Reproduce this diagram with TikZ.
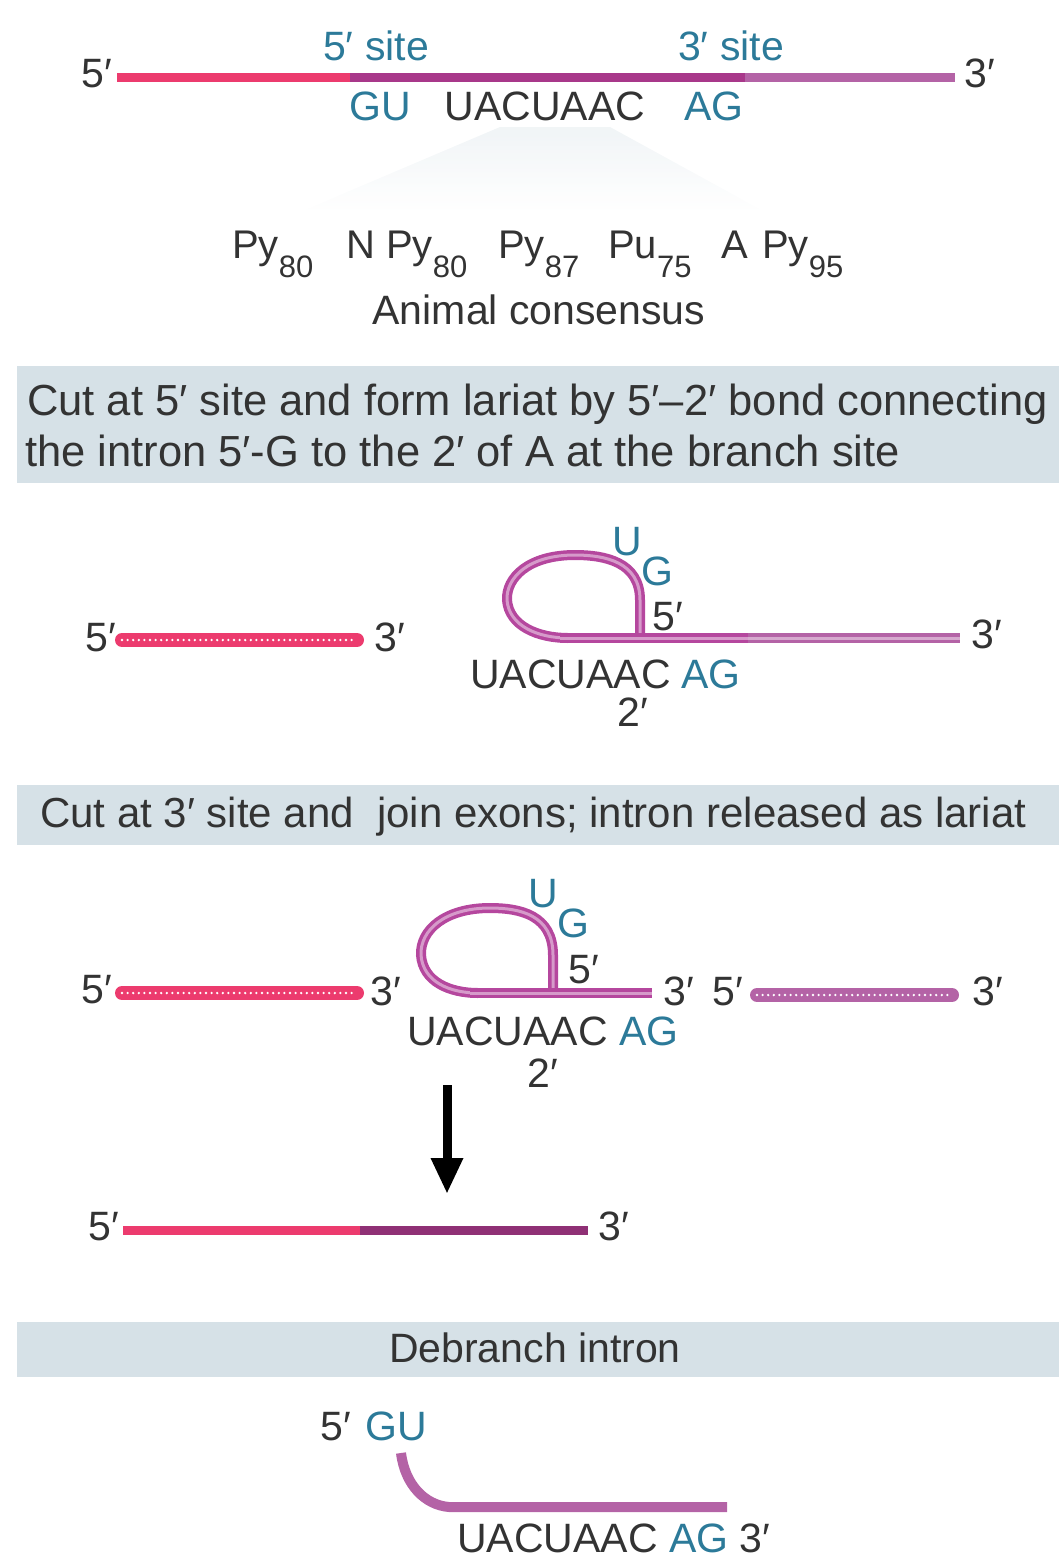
\documentclass[tikz,border=0pt]{standalone}
\usepackage{fontspec}
\setmainfont{Liberation Sans}
\usetikzlibrary{arrows.meta}
\definecolor{txt}{HTML}{333333}
\definecolor{blu}{HTML}{2C7A99}
\definecolor{exA}{HTML}{EC3B6E}
\definecolor{intr}{HTML}{A8388A}
\definecolor{exB}{HTML}{B463A6}
\definecolor{lar}{HTML}{B5479E}
\definecolor{boxc}{HTML}{D6E1E7}
\newcommand\sbs[1]{\raisebox{-19pt}{\fontsize{31}{32}\selectfont #1}}
\begin{document}
\begin{tikzpicture}[x=1pt,y=-1pt,
  every node/.style={inner sep=0pt,text=txt},
  lbl/.style={font=\fontsize{41}{46}\selectfont,anchor=base},
  lblw/.style={lbl,anchor=base west},
  bl/.style={text=blu},
  strand/.style={line width=9pt},
  tube/.style={draw=lar,line width=3.5pt,double={lar!55!white},double distance=3pt,line cap=butt},
  dotline/.style={line width=14pt,line cap=round},
  dots/.style={draw=white,line width=2.6pt,line cap=round,dash pattern=on 0pt off 5.6pt},
  banner/.style={fill=boxc,draw=none}]
\useasboundingbox (0,0) rectangle (1059,1559);

% ---------- top pre-mRNA ----------
\coordinate (t0) at (117,77); \coordinate (t1) at (350,77);
\coordinate (t2) at (745,77); \coordinate (t3) at (955,77);
\draw[strand,exA] (t0) -- (t1);
\draw[strand,intr] (t1) -- (t2);
\draw[strand,exB] (t2) -- (t3);
\node[lbl] (t5p) at (97,87) {5′};
\node[lbl] (t3p) at (980,87) {3′};
\node[lbl,bl] (s5) at (376,60) {5′ site};
\node[lbl,bl] (s3) at (731,60) {3′ site};
\node[lbl,bl] (gu) at (380,120) {GU};
\node[lbl] (br) at (545,120) {UACUAAC};
\node[lbl,bl] (ag) at (714,120) {AG};

% faint expansion fan
\shade[top color={boxc!45!white},bottom color=white,opacity=0.8]
  (500,127) -- (610,127) -- (765,212) -- (300,212) -- cycle;

% ---------- consensus ----------
\begin{scope}[every node/.style={inner sep=0pt,text=txt,font=\fontsize{40}{44}\selectfont,anchor=base west}]
\node (c1) at (232,258) {Py\sbs{80}};
\node (c2) at (346,258) {N};
\node (c3) at (386,258) {Py\sbs{80}};
\node (c4) at (498,258) {Py\sbs{87}};
\node (c5) at (608,258) {Pu\sbs{75}};
\node (c6) at (721,258) {A};
\node (c7) at (762,258) {Py\sbs{95}};
\end{scope}
\node[lbl] (cons) at (539,324) {Animal consensus};

% ---------- banner 1 ----------
\fill[banner] (17,366) rectangle (1059,483);
\node[lblw,font=\fontsize{43.5}{48}\selectfont] (b1a) at (27,415) {Cut at 5′ site and form lariat by 5′–2′ bond connecting};
\node[lblw,font=\fontsize{43.5}{48}\selectfont] (b1b) at (25,466) {the intron 5′-G to the 2′ of A at the branch site};

% ---------- stage 2 ----------
\coordinate (e1a) at (122,640); \coordinate (e1b) at (357,640);
\draw[dotline,exA] (e1a) -- (e1b);
\draw[dots] (e1a) -- (e1b);
\node[lbl] (s2l5) at (101,651) {5′};
\node[lbl] (s2l3) at (390,651) {3′};
\draw[tube] (640,638) -- (640,600) .. controls (640,562) and (605,555) .. (575,555)
   .. controls (528,555) and (506,578) .. (507,600)
   .. controls (509,626) and (538,638) .. (568,638);
\coordinate (l2a) at (560,638); \coordinate (l2b) at (748,638); \coordinate (l2c) at (960,638);
\draw[tube] (l2a) -- (l2b);
\draw[draw=exB,line width=3.5pt,double={exB!55!white},double distance=3pt] (l2b) -- (l2c);
\node[lbl] (s2r3) at (987,648) {3′};
\node[lbl,bl] (s2u) at (627,555) {U};
\node[lbl,bl] (s2g) at (657,585) {G};
\node[lbl] (s2f) at (668,630) {5′};
\node[lbl,anchor=base east] (s2br) at (671,688) {UACUAAC};
\node[lbl,bl,anchor=base west] (s2ag) at (681,688) {AG};
\node[lbl] (s2two) at (633,726) {2′};

% ---------- banner 2 ----------
\fill[banner] (17,785) rectangle (1059,845);
\node[lblw,font=\fontsize{42}{46}\selectfont] (b2) at (40,827) {Cut at 3′ site and\ \ join exons; intron released as lariat};

% ---------- stage 3 ----------
\coordinate (e3a) at (122,993); \coordinate (e3b) at (357,993);
\draw[dotline,exA] (e3a) -- (e3b);
\draw[dots] (e3a) -- (e3b);
\node[lbl] (s3l5) at (97,1003) {5′};
\node[lbl] (s3l3) at (386,1005) {3′};
\draw[tube] (553,993) -- (553,955) .. controls (553,915) and (520,908) .. (490,908)
   .. controls (445,908) and (420,930) .. (421,955)
   .. controls (423,982) and (450,993) .. (478,993);
\coordinate (l3a) at (470,993); \coordinate (l3b) at (652,993);
\draw[tube] (l3a) -- (l3b);
\node[lbl,bl] (s3u) at (543,907) {U};
\node[lbl,bl] (s3g) at (573,937) {G};
\node[lbl] (s3f) at (584,983) {5′};
\node[lbl] (s3m3) at (679,1005) {3′};
\node[lbl] (s3m5) at (728,1005) {5′};
\coordinate (e4a) at (757,995); \coordinate (e4b) at (952,995);
\draw[dotline,exB] (e4a) -- (e4b);
\draw[dots] (e4a) -- (e4b);
\node[lbl] (s3r3) at (988,1005) {3′};
\node[lbl,anchor=base east] (s3br) at (608,1045) {UACUAAC};
\node[lbl,bl,anchor=base west] (s3ag) at (619,1045) {AG};
\node[lbl] (s3two) at (543,1087) {2′};

% arrow
\coordinate (ar0) at (447,1085); \coordinate (ar1) at (447,1194);
\draw[line width=9pt,black,-{Triangle[width=30pt,length=36pt]}] (ar0) -- (ar1);

% ---------- stage 4 ----------
\coordinate (j0) at (123,1230); \coordinate (j1) at (360,1230); \coordinate (j2) at (588,1230);
\draw[strand,exA] (j0) -- (j1);
\draw[strand,intr!85!black] (j1) -- (j2);
\node[lbl] (s4l5) at (104,1240) {5′};
\node[lbl] (s4r3) at (614,1240) {3′};

% ---------- banner 3 ----------
\fill[banner] (17,1322) rectangle (1059,1377);
\node[lbl] (b3) at (535,1362) {Debranch intron};

% ---------- stage 5 ----------
\node[lbl] (d5) at (336,1440) {5′};
\node[lbl,bl] (dgu) at (396,1440) {GU};
\draw[draw=exB,line width=10pt] (401,1453) .. controls (405,1485) and (425,1505) .. (449,1507) -- (727,1507);
\node[lblw] (dbr) at (457,1552) {UACUAAC \textcolor{blu}{AG} 3′};
\end{tikzpicture}
\end{document}
